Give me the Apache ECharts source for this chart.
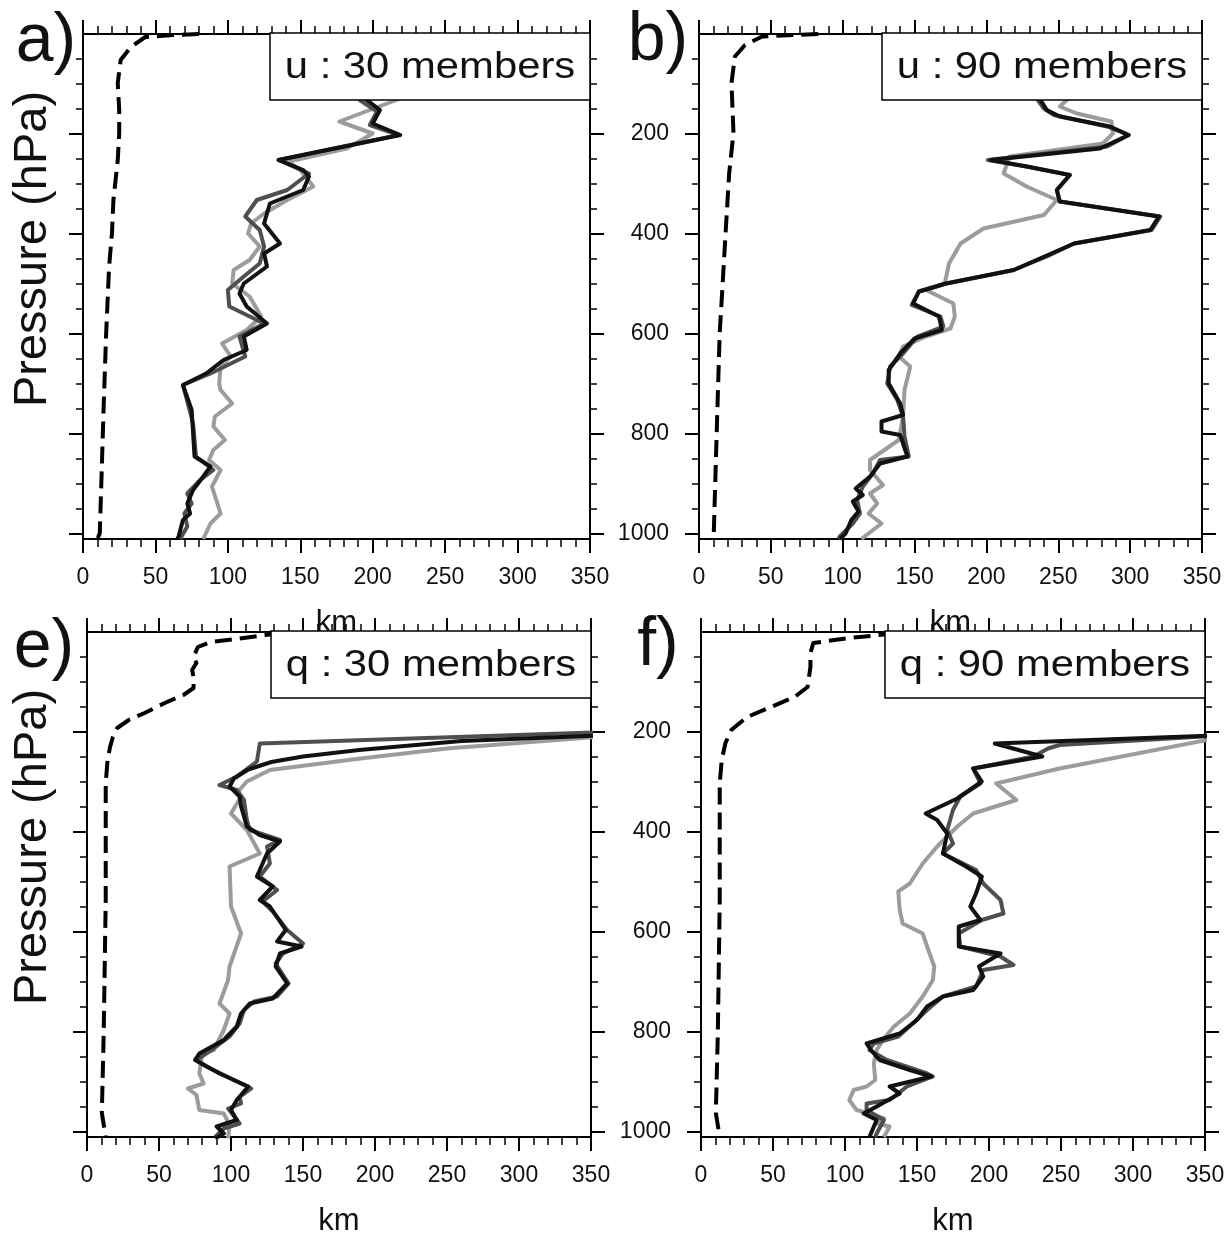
<!DOCTYPE html>
<html lang="en">
<head>
    <meta charset="utf-8">
    <title>Spread profiles</title>
    <script src="https://cdn.jsdelivr.net/npm/echarts@6/dist/echarts.min.js"></script>
    <style>
        html, body { margin: 0; padding: 0; background: #fff; }
        #main { width: 1228px; height: 1237px; }
    </style>
</head>
<body>
<div id="main"></div>
<script type="text/javascript">
// each profile: [pressure (hPa), distance (km)]
var pMajor = [200, 400, 600, 800, 1000];
var pMinor = [50, 100, 150, 250, 300, 350, 450, 500, 550, 650, 700, 750, 850, 900, 950];

// a) u : 30 members
var u30Dashed = [[0,80],[2,62],[6,43],[26,33],[52,26],[98,24],[152,25],[198,25],[252,24],[332,21],[398,20],[466,18],[532,17],[598,16],[732,14.4],[866,13],[998,11.6],[1010,10]];
var u30Black = [[100,200],[132,196],[152,205],[179,200],[202,219],[252,135],[272,152],[285,156],[312,152],[339,129],[379,125],[419,136],[439,125],[465,127],[499,111],[519,108],[545,113],[579,127],[605,111],[632,113],[652,97],[679,85],[702,69],[752,75],[845,77],[865,88],[885,83],[912,76],[939,72],[959,74],[972,69],[1005,66],[1010,65]];
var u30Dark = [[100,195],[132,191],[155,203],[182,198],[202,218],[252,135],[279,156],[312,141],[332,120],[365,112],[392,122],[425,125],[459,122],[485,111],[512,100],[545,101],[579,125],[605,108],[645,112],[679,88],[702,69],[779,76],[845,78],[872,90],[892,81],[919,72],[939,75],[959,70],[985,72],[1010,67]];
var u30Light = [[100,235],[129,219],[175,177],[199,200],[229,182],[255,142],[272,150],[305,159],[332,141],[359,125],[379,116],[399,114],[425,122],[452,115],[472,104],[499,103],[525,115],[565,123],[592,113],[619,96],[645,102],[665,95],[699,94],[712,95],[739,103],[765,91],[785,90],[812,98],[832,90],[852,87],[872,95],[905,89],[932,92],[959,95],[979,88],[1010,83]];

// b) u : 90 members
var u90Dashed = [[0,83],[5,44],[22,32],[45,25],[98,22.6],[198,24],[278,21],[398,18.5],[532,15.8],[598,14.4],[798,12.3],[998,10.3],[1010,9]];
var u90Black = [[100,232],[129,237],[152,242],[165,251],[185,286],[202,299],[229,279],[252,203],[265,228],[282,258],[312,249],[335,251],[365,320],[392,314],[419,261],[472,219],[499,172],[515,153],[539,149],[565,167],[592,169],[609,150],[639,140],[672,132],[699,132],[739,140],[762,142],[775,127],[795,127],[802,140],[845,145],[859,126],[885,119],[909,109],[922,114],[935,107],[955,111],[972,106],[999,102],[1010,98]];
var u90Dark = [[100,228],[129,235],[149,240],[162,247],[185,284],[202,299],[225,284],[252,201],[265,228],[282,258],[312,249],[335,251],[365,321],[392,315],[419,261],[445,242],[472,219],[499,172],[515,153],[542,148],[565,168],[585,170],[605,152],[639,142],[665,133],[699,131],[732,138],[765,142],[805,143],[845,146],[852,126],[879,121],[905,114],[932,110],[959,112],[979,107],[1005,98],[1010,97]];
var u90Light = [[100,270],[132,256],[145,251],[159,263],[175,287],[199,288],[219,281],[245,216],[279,212],[305,228],[332,249],[362,240],[389,198],[419,182],[459,174],[499,171],[512,158],[539,177],[565,178],[589,175],[605,158],[625,142],[645,139],[665,147],[712,143],[765,142],[812,139],[852,119],[872,119],[902,128],[919,119],[939,124],[959,118],[979,127],[1010,113]];

// e) q : 30 members
var q30Dashed = [[2,135],[6,124],[14,103],[20,86],[30,77],[50,74],[62,76],[76,73],[90,74],[112,74],[126,67],[142,54],[162,40],[176,29],[192,21],[210,18],[230,16],[256,14.3],[302,13],[536,13],[802,11.6],[962,10.3],[1010,13]];
var q30Black = [[200,420],[218,260],[236,189],[249,150],[260,128],[275,112],[293,102],[309,99],[329,106],[349,107],[389,111],[406,120],[419,134],[443,125],[489,118],[509,129],[536,120],[549,127],[596,138],[619,132],[629,149],[643,134],[669,131],[703,139],[733,129],[743,113],[763,107],[789,104],[816,95],[843,78],[856,75],[883,92],[909,112],[936,104],[956,100],[976,104],[989,90],[1003,95],[1013,89]];
var q30Dark = [[200,360],[223,120],[259,118],[289,104],[306,92],[316,104],[336,109],[376,111],[396,113],[416,134],[429,125],[463,127],[489,120],[516,132],[539,122],[559,129],[596,139],[623,150],[643,136],[663,131],[703,140],[729,132],[739,116],[756,109],[783,106],[809,99],[833,88],[856,76],[869,83],[913,114],[930,106],[943,107],[953,98],[983,106],[993,95],[1010,89]];
var q30Light = [[200,400],[233,250],[253,190],[276,127],[299,111],[319,105],[329,107],[363,100],[396,111],[443,120],[469,99],[549,100],[603,107],[669,99],[696,98],[743,92],[763,99],[796,95],[836,88],[843,80],[883,78],[903,81],[913,70],[926,76],[956,78],[963,95],[986,99],[1013,98]];

// f) q : 90 members
var q90Dashed = [[2,135],[6,124],[12,103],[22,78],[42,76],[70,76],[110,74],[130,65],[150,48.6],[170,32],[196,21],[222,17],[256,14.4],[302,13],[536,13],[802,11.7],[962,10.3],[1010,13]];
var q90Black = [[200,420],[223,204],[249,237],[273,189],[299,195],[333,178],[363,156],[376,164],[403,171],[443,168],[469,184],[489,195],[523,191],[549,187],[576,194],[589,179],[629,179],[643,208],[669,193],[689,196],[716,189],[729,168],[749,157],[776,150],[803,138],[823,115],[836,118],[856,124],[876,145],[889,160],[909,131],[923,138],[949,122],[963,113],[976,122],[1003,118],[1010,117]];
var q90Dark = [[200,400],[226,249],[233,241],[249,231],[273,189],[303,194],[329,180],[356,175],[396,171],[423,175],[443,168],[476,191],[503,196],[536,208],[563,210],[576,195],[603,179],[629,180],[649,208],[666,217],[676,196],[709,191],[729,168],[756,157],[783,147],[809,137],[823,120],[836,117],[856,129],[883,157],[889,161],[909,143],[936,131],[943,115],[956,115],[976,127],[1003,122],[1010,121]];
var q90Light = [[200,380],[273,249],[303,205],[336,219],[363,189],[389,178],[429,164],[463,154],[503,145],[519,137],[556,138],[583,140],[603,154],[629,157],[669,162],[696,161],[729,154],[763,145],[789,134],[813,127],[836,122],[863,120],[896,121],[909,115],[916,106],[936,103],[956,108],[963,117],[973,127],[983,122],[989,131],[1010,127]];

var FONT = '"Liberation Sans", Arial, Helvetica, sans-serif';
var cBlack = '#111111', cDark = '#4f4f4f', cLight = '#9c9c9c';

var panels = [
    { tag: 'a)', title: 'u : 30 members', left: 83, top: 34, width: 507, yLabels: false, tagX: 46, tagY: 42,
      dashed: u30Dashed, light: u30Light, dark: u30Dark, black: u30Black },
    { tag: 'b)', title: 'u : 90 members', left: 699, top: 34, width: 503, yLabels: true, tagX: 658, tagY: 41,
      dashed: u90Dashed, light: u90Light, dark: u90Dark, black: u90Black },
    { tag: 'e)', title: 'q : 30 members', left: 87, top: 632, width: 504, yLabels: false, tagX: 44, tagY: 648,
      dashed: q30Dashed, light: q30Light, dark: q30Dark, black: q30Black },
    { tag: 'f)', title: 'q : 90 members', left: 701, top: 632, width: 504, yLabels: true, tagX: 658, tagY: 646,
      dashed: q90Dashed, light: q90Light, dark: q90Dark, black: q90Black }
];
var H = 505;

function toXY(arr) {
    return arr.map(function (d) { return [d[1], d[0]]; });
}
function plain(v) { return String(v); }

var grids = [], xAxes = [], yAxes = [], series = [], graphics = [];

function yAxis(gi, pos, values, len, w, showLine, showLabel) {
    return {
        type: 'value', gridIndex: gi, position: pos, inverse: true, min: 0, max: 1010,
        axisLine: { show: showLine, onZero: false, lineStyle: { color: '#000', width: 2 } },
        axisTick: { show: true, inside: false, length: len, customValues: values, lineStyle: { color: '#000', width: w } },
        axisLabel: { show: showLabel, customValues: values, formatter: plain, margin: 30,
                     fontSize: 23, color: '#111', fontFamily: FONT },
        splitLine: { show: false }
    };
}

panels.forEach(function (p, gi) {
    grids.push({ left: p.left, top: p.top, width: p.width, height: H, outerBoundsMode: 'none', show: false });

    var xBase = {
        type: 'value', gridIndex: gi, min: 0, max: 350, interval: 50,
        axisLine: { onZero: false, lineStyle: { color: '#000', width: 2 } },
        axisTick: { inside: false, length: 14, lineStyle: { color: '#000', width: 2 } },
        minorTick: { show: true, splitNumber: 5, length: 8, lineStyle: { color: '#000', width: 1.5 } },
        splitLine: { show: false }, minorSplitLine: { show: false }
    };
    xAxes.push(Object.assign({}, xBase, {
        position: 'bottom',
        axisLabel: { fontSize: 23, margin: 27, color: '#111', fontFamily: FONT, formatter: plain },
        name: 'km', nameLocation: 'middle', nameGap: 69,
        nameTextStyle: { fontSize: 31, color: '#111', fontFamily: FONT }
    }));
    xAxes.push(Object.assign({}, xBase, { position: 'top', axisLabel: { show: false } }));

    yAxes.push(yAxis(gi, 'left', pMajor, 14, 2, true, p.yLabels));
    yAxes.push(yAxis(gi, 'left', pMinor, 7, 1.5, false, false));
    yAxes.push(yAxis(gi, 'right', pMajor, 14, 2, true, false));
    yAxes.push(yAxis(gi, 'right', pMinor, 7, 1.5, false, false));

    var lines = [
        { d: p.dashed, c: '#000', t: [17, 8] },
        { d: p.light, c: cLight, t: 'solid' },
        { d: p.dark, c: cDark, t: 'solid' },
        { d: p.black, c: cBlack, t: 'solid' }
    ];
    lines.forEach(function (l, k) {
        series.push({
            type: 'line', xAxisIndex: 2 * gi, yAxisIndex: 4 * gi,
            data: toXY(l.d), symbol: 'none', showSymbol: false, silent: true, clip: true,
            z: 2 + k,
            lineStyle: { color: l.c, width: 4, type: l.t, join: 'round' }
        });
    });

    // title box in the top-right corner
    var bx = p.left + p.width - 320, by = p.top - 1;
    graphics.push({
        type: 'rect', z: 100, shape: { x: bx, y: by, width: 320, height: 67 },
        style: { fill: '#fff', stroke: '#000', lineWidth: 1.5 }
    });
    graphics.push({
        type: 'text', z: 101, x: bx + 160, y: by + 35, scaleX: 1.13,
        style: { text: p.title, font: '37px ' + FONT, fill: '#111',
                 align: 'center', verticalAlign: 'middle', textAlign: 'center', textVerticalAlign: 'middle' }
    });
    // panel tag
    graphics.push({
        type: 'text', z: 101, x: p.tagX, y: p.tagY,
        style: { text: p.tag, font: '68px ' + FONT, fill: '#111',
                 align: 'center', verticalAlign: 'middle', textAlign: 'center', textVerticalAlign: 'middle' }
    });
    if (!p.yLabels) {
        graphics.push({
            type: 'text', z: 101, x: 33, y: p.top + 215, rotation: Math.PI / 2,
            style: { text: 'Pressure (hPa)', font: '47px ' + FONT, fill: '#111',
                     align: 'center', verticalAlign: 'middle', textAlign: 'center', textVerticalAlign: 'middle' }
        });
    }
});

var myChart = echarts.init(document.getElementById('main'));
myChart.setOption({
    backgroundColor: '#fff',
    animation: false,
    grid: grids,
    xAxis: xAxes,
    yAxis: yAxes,
    series: series,
    graphic: graphics
});
</script>
</body>
</html>
